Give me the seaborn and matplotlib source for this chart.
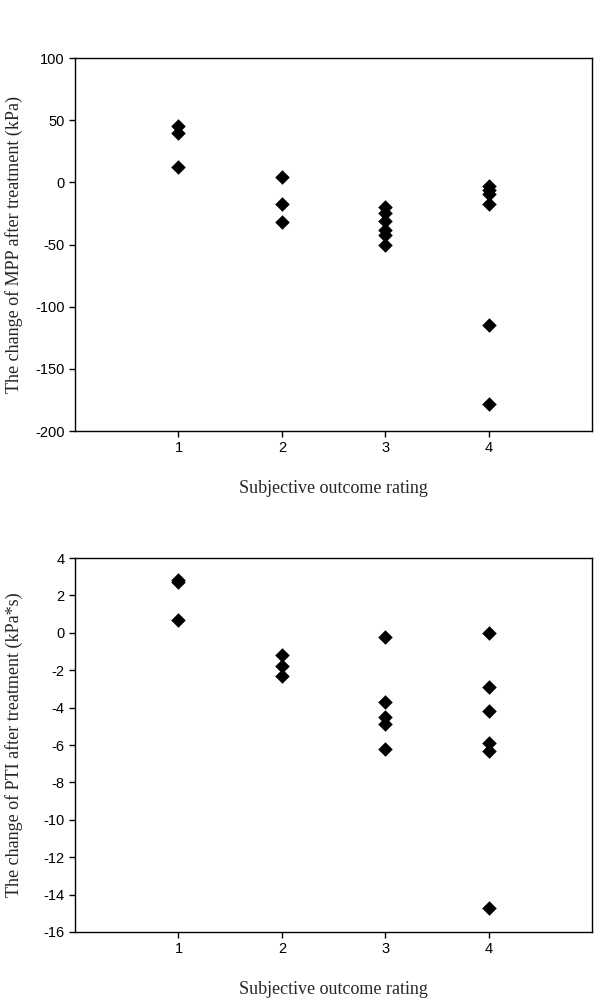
import matplotlib as mpl
import matplotlib.pyplot as plt
import pandas as pd
import seaborn as sns

# values
mpp_rating = [1, 1, 1,
              2, 2, 2,
              3, 3, 3, 3, 3, 3,
              4, 4, 4, 4, 4, 4]
mpp_change = [45, 40, 12,
              4, -17, -32,
              -20, -25, -31, -38, -42, -50,
              -3, -6, -9, -17, -115, -178]

pti_rating = [1, 1, 1,
              2, 2, 2,
              3, 3, 3, 3, 3,
              4, 4, 4, 4, 4, 4]
pti_change = [2.8, 2.7, 0.7,
              -1.2, -1.8, -2.3,
              -0.2, -3.7, -4.5, -4.9, -6.2,
              0.0, -2.9, -4.2, -5.9, -6.3, -14.7]

x_ticks = [1, 2, 3, 4]
mpp_yticks = list(range(-200, 101, 50))
pti_yticks = list(range(-16, 5, 2))

sns.set_style("ticks")
plt.rcParams["font.family"] = ["Liberation Sans", "DejaVu Sans"]
plt.rcParams["axes.unicode_minus"] = False

fig = plt.figure(figsize=(6.0, 10.08), dpi=100)
ax_top = fig.add_axes([0.125, 0.5724, 0.862, 0.370])
ax_bot = fig.add_axes([0.125, 0.0754, 0.862, 0.371])

panels = [
    (ax_top, mpp_rating, mpp_change, mpp_yticks, (-200, 100),
     "The change of MPP after treatment (kPa)"),
    (ax_bot, pti_rating, pti_change, pti_yticks, (-16, 4),
     "The change of PTI after treatment (kPa*s)"),
]

for ax, rating, change, yticks, ylim, ylabel in panels:
    df = pd.DataFrame({"rating": rating, "change": change})
    sns.scatterplot(data=df, x="rating", y="change", ax=ax, marker="D",
                    color="black", s=55, edgecolor="black", linewidth=0)
    ax.set_xlim(0, 5)
    ax.set_ylim(*ylim)
    ax.set_xticks(x_ticks)
    ax.set_yticks(yticks)
    ax.tick_params(axis="both", direction="out", length=4, width=1,
                   labelsize=10.5, color="black", labelcolor="black")
    for side in ["top", "right", "left", "bottom"]:
        ax.spines[side].set_visible(True)
        ax.spines[side].set_color("black")
        ax.spines[side].set_linewidth(1)
    ax.set_xlabel("Subjective outcome rating", fontsize=13,
                  family="Liberation Serif", labelpad=18)
    ax.set_ylabel(ylabel, fontsize=13, family="Liberation Serif")
    ax.yaxis.set_label_coords(-0.10, 0.5)

fig.savefig("out.png", dpi=100)
